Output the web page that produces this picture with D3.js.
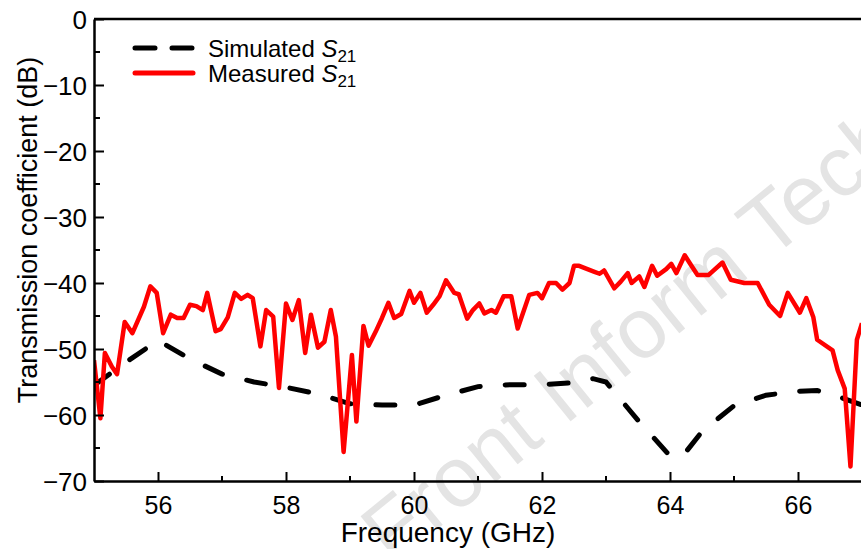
<!DOCTYPE html>
<html>
<head>
<meta charset="utf-8">
<script src="https://cdn.jsdelivr.net/npm/d3@7"></script>
<style>
  body { margin: 0; background: #fff; }
  svg text { font-family: "Liberation Sans", Arial, sans-serif; }
</style>
</head>
<body>
<div id="viz"></div>
<script>
// simulated S21 (dashed black)
var simFreq = [55, 55.5, 56, 56.5, 57, 57.5, 58, 58.5, 59, 59.5, 60, 60.5, 61, 61.5, 62, 62.5, 62.8, 63, 63.5, 64, 64.2, 64.5, 65, 65.5, 66, 66.3, 66.6, 67];
var simVal = [-55.5, -52, -48.7, -51.5, -53.8, -55, -55.8, -56.8, -58.3, -58.5, -58.5, -57, -55.7, -55.4, -55.4, -55.1, -54.5, -55, -60.8, -66.2, -66.2, -62.5, -58.6, -57, -56.4, -56.3, -57.1, -58.5];

// measured S21 (red)
var measFreq = [55.0, 55.1, 55.17, 55.28, 55.36, 55.48, 55.6, 55.78, 55.88, 55.98, 56.08, 56.2, 56.3, 56.4, 56.5, 56.6, 56.7, 56.77, 56.9, 56.98,
  57.09, 57.2, 57.3, 57.4, 57.48, 57.6, 57.69, 57.8, 57.89, 58.0, 58.1, 58.2, 58.3, 58.39, 58.5, 58.6, 58.7, 58.78, 58.9, 59.03,
  59.1, 59.21, 59.29, 59.4, 59.5, 59.6, 59.69, 59.8, 59.93, 60.0, 60.1, 60.2, 60.3, 60.4, 60.5, 60.63, 60.7, 60.83, 60.92, 61.02,
  61.1, 61.21, 61.28, 61.4, 61.52, 61.62, 61.8, 61.93, 62.0, 62.11, 62.22, 62.32, 62.43, 62.5, 62.58, 62.71, 62.82, 62.9, 62.97, 63.13,
  63.23, 63.34, 63.4, 63.52, 63.6, 63.72, 63.8, 63.94, 64.02, 64.1, 64.23, 64.33, 64.43, 64.6, 64.82, 64.95, 65.16, 65.37, 65.55, 65.72,
  65.84, 66.03, 66.13, 66.24, 66.3, 66.54, 66.62, 66.73, 66.82, 66.92, 67.0];
var measVal = [-51.7, -60.5, -50.6, -52.7, -53.8, -45.9, -47.6, -43.6, -40.5, -41.5, -47.6, -44.8, -45.3, -45.3, -43.3, -43.5, -44.1, -41.5, -47.3, -47,
  -45.2, -41.5, -42.4, -41.8, -42.3, -49.6, -44.1, -45.1, -55.9, -43.1, -45.6, -42.6, -50.6, -44.8, -49.8, -48.9, -44.1, -48.1, -65.6, -50.9,
  -61, -46.5, -49.5, -47.4, -45.3, -43, -45.3, -44.7, -41.2, -43, -41.5, -44.5, -43.3, -42, -39.6, -41.5, -41.7, -45.4, -44.1, -43.1,
  -44.6, -44.1, -44.5, -42, -42, -46.9, -41.8, -41.5, -42.3, -40, -40, -41, -40, -37.4, -37.4, -37.9, -38.3, -38.6, -38.1, -40.8,
  -39.8, -38.5, -40, -39, -40.6, -37.4, -38.9, -37.9, -37.1, -38.5, -35.8, -37.3, -38.8, -38.8, -36.9, -39.5, -40, -40, -43.3, -45,
  -41.5, -44.5, -42.3, -45.2, -48.6, -50.2, -53.2, -56, -67.8, -48.6, -46.1];

var xTicks = [56, 58, 60, 62, 64, 66];
var xMinor = [57, 59, 61, 63, 65];
var yTicks = [0, -10, -20, -30, -40, -50, -60, -70];
var yMinor = [-5, -15, -25, -35, -45, -55, -65];

var width = 861, height = 549;
var m = { left: 94, top: 19, bottom: 481, right: 862 };

var svg = d3.select("#viz").append("svg")
  .attr("width", width)
  .attr("height", height);

var xScale = d3.scaleLinear().domain([55, 67]).range([m.left, m.right]);
var yScale = d3.scaleLinear().domain([-70, 0]).range([m.bottom, m.top]);

// watermark
svg.append("text")
  .attr("transform", "translate(392,566) rotate(-39)")
  .style("font-size", "85px")
  .style("fill", "#e4e4e4")
  .text("Front Inform Tech");

svg.append("clipPath").attr("id", "clip")
  .append("rect")
  .attr("x", m.left).attr("y", m.top - 5)
  .attr("width", m.right - m.left).attr("height", m.bottom - m.top + 5);

var line = d3.line()
  .x(function (d) { return xScale(d[0]); })
  .y(function (d) { return yScale(d[1]); });

var simData = simFreq.map(function (f, i) { return [f, simVal[i]]; });
var measData = measFreq.map(function (f, i) { return [f, measVal[i]]; });

var plot = svg.append("g").attr("clip-path", "url(#clip)");

plot.append("path")
  .datum(simData)
  .attr("d", line)
  .style("fill", "none")
  .style("stroke", "#000")
  .style("stroke-width", 5)
  .style("stroke-linecap", "round")
  .style("stroke-dasharray", "19,25");

plot.append("path")
  .datum(measData)
  .attr("d", line)
  .style("fill", "none")
  .style("stroke", "#ff0000")
  .style("stroke-width", 4.5)
  .style("stroke-linejoin", "round");

// axes (ticks point inward)
var xAxis = d3.axisBottom(xScale).tickValues(xTicks).tickSize(-9).tickSizeOuter(0).tickPadding(15)
  .tickFormat(d3.format("d"));
var yAxis = d3.axisLeft(yScale).tickValues(yTicks).tickSize(-10).tickSizeOuter(0).tickPadding(7)
  .tickFormat(function (d) { return d < 0 ? "\u2212" + Math.abs(d) : d; });

var gx = svg.append("g")
  .attr("transform", "translate(0," + m.bottom + ")")
  .call(xAxis);
gx.selectAll(".minor")
  .data(xMinor)
  .enter().append("line")
  .attr("class", "minor")
  .attr("x1", xScale).attr("x2", xScale)
  .attr("y1", 0).attr("y2", -5)
  .style("stroke", "#000").style("stroke-width", 2);

var gy = svg.append("g")
  .attr("transform", "translate(" + m.left + ",0)")
  .call(yAxis);
gy.selectAll(".minor")
  .data(yMinor)
  .enter().append("line")
  .attr("class", "minor")
  .attr("y1", yScale).attr("y2", yScale)
  .attr("x1", 0).attr("x2", 6)
  .style("stroke", "#000").style("stroke-width", 2);

svg.selectAll(".domain").style("stroke-width", 2.5).style("stroke", "#000");
svg.selectAll(".tick line").style("stroke-width", 2).style("stroke", "#000");
gx.selectAll(".tick text").style("font-size", "25px").style("fill", "#000");
gy.selectAll(".tick text").style("font-size", "26px").style("fill", "#000").attr("dy", "0.36em");

// top frame line
svg.append("line")
  .attr("x1", m.left).attr("x2", width)
  .attr("y1", m.top).attr("y2", m.top)
  .style("stroke", "#000").style("stroke-width", 2.5);

// axis titles
svg.append("text")
  .attr("x", 448)
  .attr("y", 542)
  .style("text-anchor", "middle")
  .style("font-size", "28px")
  .text("Frequency (GHz)");

svg.append("text")
  .attr("transform", "translate(37,230) rotate(-90)")
  .style("text-anchor", "middle")
  .style("font-size", "27px")
  .text("Transmission coefficient (dB)");

// legend
var legendItems = [
  { name: "Simulated ", color: "#000", dash: "20,17", y: 48 },
  { name: "Measured ", color: "#ff0000", dash: null, y: 73 }
];
var legend = svg.selectAll(".legend")
  .data(legendItems)
  .enter().append("g")
  .attr("class", "legend")
  .attr("transform", function (d) { return "translate(0," + d.y + ")"; });

legend.append("line")
  .attr("x1", 135).attr("x2", 193)
  .style("stroke", function (d) { return d.color; })
  .style("stroke-width", 5)
  .style("stroke-linecap", "round")
  .style("stroke-dasharray", function (d) { return d.dash; });

var lt = legend.append("text")
  .attr("x", 208)
  .attr("y", 9)
  .style("font-size", "24px");
lt.append("tspan").text(function (d) { return d.name; });
lt.append("tspan").style("font-style", "italic").text("S");
lt.append("tspan").attr("dy", 5).style("font-size", "17px").text("21");
</script>
</body>
</html>
